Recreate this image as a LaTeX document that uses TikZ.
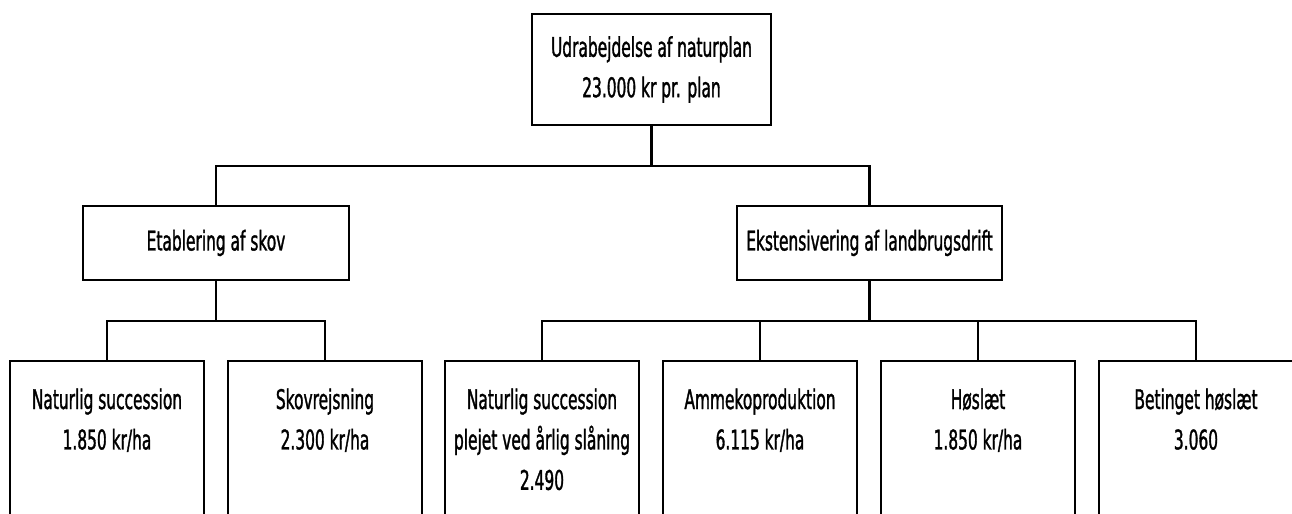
\documentclass[tikz,border=0pt]{standalone}
\usepackage{fontspec}
\setmainfont{DejaVu Sans}[FakeStretch=0.57, FakeBold=1.2]
\newcommand{\leaftext}[1]{\parbox[c][4cm][t]{3.88cm}{\centering\rule{0pt}{0.96cm}#1}}

\begin{document}
\begin{tikzpicture}[x=0.02cm, y=-0.02cm, line width=1.4pt,
  font=\fontsize{15.4}{23}\selectfont,
  box/.style={draw, rectangle, align=center, inner sep=0pt},
  leaf/.style={draw, rectangle, inner sep=0pt}]
 	\clip (0,0) rectangle (1292,514);
 
 	\node (plan)[box, minimum width=4.78cm, minimum height=2.22cm] at (651.5,69.5) {Udrabejdelse af naturplan\\23.000 kr pr. plan};
 	\node (skov)[box, minimum width=5.32cm, minimum height=1.48cm] at (216,243) {Etablering af skov};
 	\node (landbrug)[box, minimum width=5.3cm, minimum height=1.48cm] at (869.5,243) {Ekstensivering af landbrugsdrift};
 
 	\node (succ)[leaf] at (107,461) {\leaftext{Naturlig succession\\1.850 kr/ha}};
 	\node (skovrejs)[leaf] at (325,461) {\leaftext{Skovrejsning\\2.300 kr/ha}};
 	\node (slaaning)[leaf] at (542,461) {\leaftext{Naturlig succession\\plejet ved årlig slåning\\2.490}};
 	\node (amme)[leaf] at (760,461) {\leaftext{Ammekoproduktion\\6.115 kr/ha}};
 	\node (hoslaet)[leaf] at (978,461) {\leaftext{Høslæt\\1.850 kr/ha}};
 	\node (betinget)[leaf] at (1196,461) {\leaftext{Betinget høslæt\\3.060}};
 
 	\coordinate (top) at (651.5,166);
 	\coordinate (left) at (216,321);
 	\coordinate (right) at (869.5,321);
 
 	\draw (plan.south) -- (top) -| (skov.north);
 	\draw (top) -| (landbrug.north);
 
 	\draw (skov.south) -- (left) -| (succ.north);
 	\draw (left) -| (skovrejs.north);
 
 	\draw (landbrug.south) -- (right) -| (slaaning.north);
 	\draw (right) -| (amme.north);
 	\draw (right) -| (hoslaet.north);
 	\draw (right) -| (betinget.north);
 	
 \end{tikzpicture}
\end{document}
